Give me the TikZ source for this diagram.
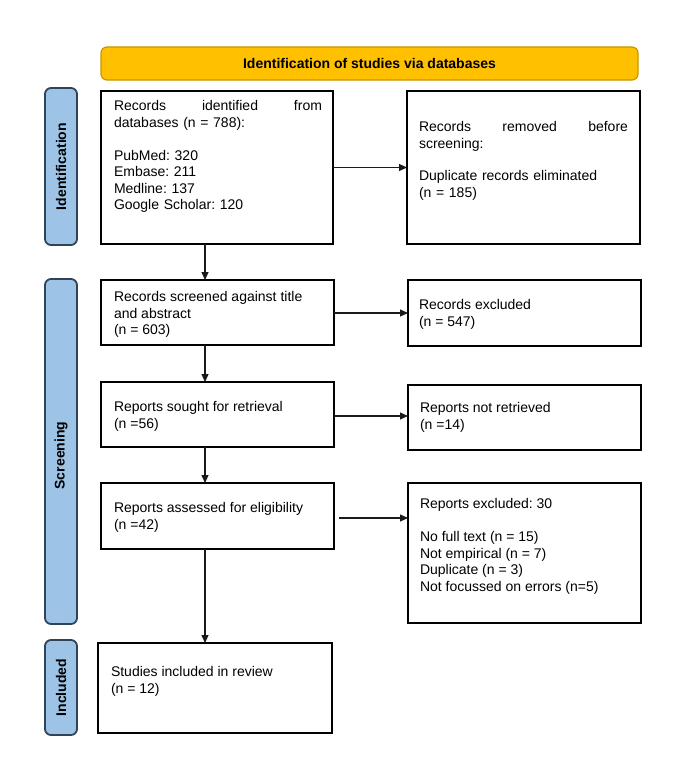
\documentclass[tikz,border=0pt]{standalone}
\usepackage{fontspec}
\setmainfont{Liberation Sans}
\usetikzlibrary{arrows.meta}
\frenchspacing
\definecolor{hdrfill}{HTML}{FFC000}
\definecolor{hdrdraw}{HTML}{C99700}
\definecolor{barfill}{HTML}{9DC3E6}
\definecolor{bardraw}{HTML}{2F4458}
\definecolor{arrcol}{HTML}{1A1A1A}
\newcommand{\fullline}[1]{\leavevmode\hbox to\hsize{#1}}
\tikzset{
  box/.style={draw=black, line width=1.3pt, fill=white, rectangle, inner sep=0pt, outer sep=0pt, anchor=north west},
  hdr/.style={draw=hdrdraw, fill=hdrfill, line width=1.2pt, rounded corners=6pt, inner sep=0pt, outer sep=0pt, anchor=north west},
  sidebar/.style={draw=bardraw, fill=barfill, line width=1.8pt, rounded corners=6pt, inner sep=0pt, outer sep=0pt, anchor=north west},
  txt/.style={inner sep=0pt, outer sep=0pt, anchor=north west, align=left, font=\fontsize{14}{16.5}\selectfont\frenchspacing},
  sidetxt/.style={inner sep=0pt, outer sep=0pt, rotate=90, font=\fontsize{14}{16.5}\selectfont\bfseries},
  arr/.style={draw=arrcol, line width=1.1pt, -{Triangle[length=8pt,width=7pt]}},
}
\begin{document}
\begin{tikzpicture}[x=1pt,y=-1pt]
\useasboundingbox[fill=white] (0,0) rectangle (696,768);

% header
\node[hdr, minimum width=537pt, minimum height=33pt] (hdr) at (101,47) {};
\node[inner sep=0pt, font=\fontsize{14}{16.5}\selectfont\bfseries] (hdrtxt) at (hdr.center) {Identification of studies via databases};

% side bars
\node[sidebar, minimum width=32pt, minimum height=157pt] (sb1) at (45,88) {};
\node[sidetxt] (sb1t) at (sb1.center) {Identification};
\node[sidebar, minimum width=32pt, minimum height=345pt] (sb2) at (45,279) {};
\node[sidetxt] (sb2t) at ([yshift=-4pt]sb2.center) {Screening};
\node[sidebar, minimum width=32pt, minimum height=95pt] (sb3) at (45,640) {};
\node[sidetxt] (sb3t) at (sb3.center) {Included};

% boxes
\node[box, minimum width=232pt, minimum height=153pt] (b1) at (101,91) {};
\node[box, minimum width=233pt, minimum height=153pt] (b2) at (407,91) {};
\node[box, minimum width=233pt, minimum height=65pt] (b3) at (101,280) {};
\node[box, minimum width=233pt, minimum height=66pt] (b4) at (408,280) {};
\node[box, minimum width=233pt, minimum height=65pt] (b5) at (101,382) {};
\node[box, minimum width=233pt, minimum height=65pt] (b6) at (408,385) {};
\node[box, minimum width=233pt, minimum height=66pt] (b7) at (101,483) {};
\node[box, minimum width=233pt, minimum height=140pt] (b8) at (408,483) {};
\node[box, minimum width=234pt, minimum height=90pt] (b9) at (98,643) {};

% texts
\node[txt, text width=208pt] (t1) at (114,100.8) {\fullline{Records\hfill identified\hfill from}\\databases (n = 788):\\[16.5pt]PubMed: 320\\Embase: 211\\Medline: 137\\Google Scholar: 120};
\node[txt, text width=209pt] (t2) at (419,121.8) {\fullline{Records\hfill removed\hfill before}\\screening:\\[16pt]Duplicate records eliminated\\(n = 185)};
\node[txt] (t3) at (114,291.8) {Records screened against title\\and abstract\\(n = 603)};
\node[txt] (t4) at (419,299.8) {Records excluded\\(n = 547)};
\node[txt] (t5) at (114,401.8) {Reports sought for retrieval\\(n =56)};
\node[txt] (t6) at (420,402.8) {Reports not retrieved\\(n =14)};
\node[txt] (t7) at (114,502.8) {Reports assessed for eligibility\\(n =42)};
\node[txt] (t8) at (420,498.8) {Reports excluded: 30\\[16.5pt]No full text (n = 15)\\Not empirical (n = 7)\\Duplicate (n = 3)\\Not focussed on errors (n=5)};
\node[txt] (t9) at (111,666.8) {Studies included in review\\(n = 12)};

% connectors
\coordinate (ax) at (205,0);
\draw[arr] (b1.south -| ax) -- (b3.north -| ax);
\draw[arr] (b3.south -| ax) -- (b5.north -| ax);
\draw[arr] (b5.south -| ax) -- (b7.north -| ax);
\draw[arr] (b7.south -| ax) -- (b9.north -| ax);
\draw[arr] (b1.east) -- (b1.east -| b2.west);
\draw[arr] ([yshift=-0.5pt]b3.east) -- ([yshift=-0.5pt]b3.east -| b4.west);
\draw[arr] ([yshift=-1.5pt]b5.east) -- ([yshift=-1.5pt]b5.east -| b6.west);
\draw[arr] ([yshift=-2pt,xshift=5pt]b7.east) -- ([yshift=-2pt]b7.east -| b8.west);
\end{tikzpicture}
\end{document}
